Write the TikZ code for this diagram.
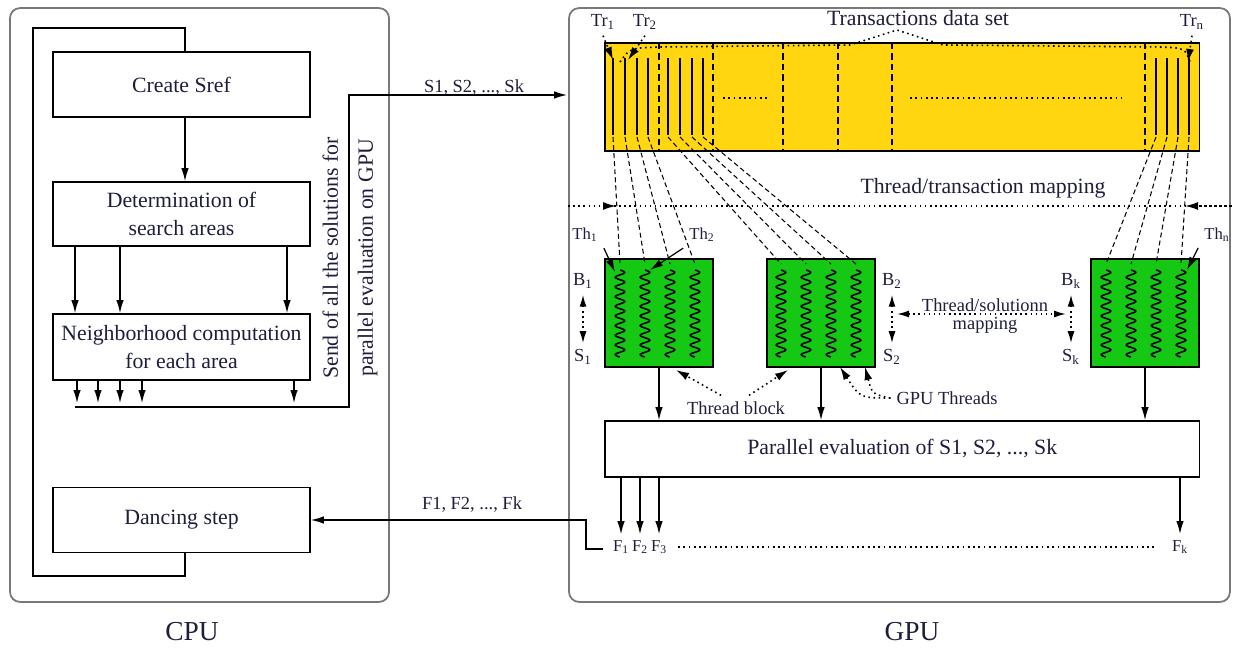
\documentclass[tikz,border=0pt]{standalone}
\usepackage{fontspec}
\setmainfont{Liberation Serif}
\usetikzlibrary{arrows.meta}
\definecolor{txt}{RGB}{30,30,60}
\definecolor{gold}{RGB}{255,214,15}
\definecolor{grn}{RGB}{20,200,20}
\definecolor{frame}{RGB}{120,120,120}
\begin{document}
\begin{tikzpicture}[x=0.02cm, y=-0.02cm, font=\fontsize{12.4}{15.5}\selectfont, text=txt,
    arr/.style={-{Latex[length=2.6mm,width=1.5mm]}, line width=0.7pt},
    dotarr/.style={dotted, line width=0.9pt, -{Latex[length=2.6mm,width=1.6mm]}},
    dotdbl/.style={dotted, line width=0.9pt, {Latex[length=2.4mm,width=1.4mm]}-{Latex[length=2.4mm,width=1.4mm]}},
    box/.style={draw, line width=1pt, minimum width=5.14cm, align=center, inner sep=0pt},
    part/.style={draw=frame, line width=1pt, rounded corners=0.2cm, minimum height=11.88cm},
    block/.style={draw, line width=1pt, fill=grn, minimum width=2.16cm, minimum height=2.16cm},
    sepline/.style={line width=1.3pt, dash pattern=on 3.8pt off 2.3pt},
    maplink/.style={line width=0.6pt, dash pattern=on 2.8pt off 1.8pt},
    wave/.style={line width=0.9pt},
    small/.style={font=\fontsize{10.5}{12}\selectfont},
    tiny/.style={font=\fontsize{9.5}{11}\selectfont}]
    \useasboundingbox (0,0) rectangle (1233,648);
    % frames
    \node[part, minimum width=7.58cm] (cpu) at (199.5,305) {};
    \node[part, minimum width=13.22cm] (gpu) at (899.5,305) {};
    \node[font=\fontsize{15.6}{18}\selectfont] (cpulbl) at (192,632) {CPU};
    \node[font=\fontsize{15.6}{18}\selectfont] (gpulbl) at (912,632) {GPU};
    % CPU side
    \node[box, minimum height=1.3cm] (sref) at (181.5,84.5) {Create Sref};
    \node[box, minimum height=1.28cm] (det) at (181.5,214) {Determination of\\search areas};
    \node[box, minimum height=1.32cm] (nbh) at (181.5,347) {Neighborhood computation\\for each area};
    \node[box, minimum height=1.3cm] (dance) at (181.5,520) {Dancing step};
    \draw[arr] (185,0 |- sref.south) -- (185,0 |- det.north);
    \foreach \xx in {75,120,287}
        \draw[arr] (\xx,0 |- det.south) -- (\xx,0 |- nbh.north);
    \foreach \xx in {77,98,120,142,294}
        \draw[arr] (\xx,0 |- nbh.south) -- (\xx,403);
    \draw[line width=0.8pt] (185,0 |- sref.north) -- (185,28) -- (33,28) -- (33,576) -- (185,576) -- (185,0 |- dance.south);
    \coordinate (sl) at (75,407);
    \coordinate (sr) at (349,407);
    \coordinate (sin) at (567,95);
    \draw[arr] (sl) -- (sr) |- (sin);
    \node[small] (slbl) at (474,88) {S1, S2, ..., Sk};
    \node[rotate=90, align=center, font=\fontsize{12.4}{19.9}\selectfont] (send) at (350,258)
        {Send of all the solutions for\\parallel evaluation on GPU};
    % transactions
    \node[draw, line width=1pt, fill=gold, minimum width=11.89cm, minimum height=2.16cm] (tds) at (902.25,97) {};
    \foreach \xx in {613,625,637,648,668,680,692,703,1156,1167,1178,1189}
        \draw[line width=1pt] (\xx,58) -- (\xx,135);
    \foreach \xx in {659,713,783,838,892,1145}
        \draw[sepline] (\xx,0 |- tds.north) -- (\xx,0 |- tds.south);
    \draw[dotted, line width=1pt] (723,98) -- (768,98);
    \draw[dotted, line width=1pt] (910,98) -- (1122,98);
    \node (dslbl) at (918,18) {Transactions data set};
    \draw[dotted, line width=0.9pt] (620,62) .. controls (630,48) .. (660,47) -- (850,45) -- (897,30)
        -- (943,45) -- (1160,47) .. controls (1185,48) .. (1190,62);
    \node[small] (tr1) at (603,22) {Tr\textsubscript{1}};
    \node[small] (tr2) at (645,22) {Tr\textsubscript{2}};
    \node[small] (trn) at (1192,22) {Tr\textsubscript{n}};
    \draw[dotarr] (tr1.south) -- (613,60);
    \draw[dotarr] (tr2.south) -- (628,60);
    \draw[dotarr] (trn.south) -- (1188,62);
    % mapping
    \node (tmlbl) at (983,188) {Thread/transaction mapping};
    \draw[dotted, line width=0.9pt] (gpu.west |- 0,206) -- (gpu.east |- 0,206);
    \draw[dotarr] (gpu.west |- 0,206) -- (616,206);
    \draw[dotarr] (gpu.east |- 0,206) -- (1185,206);
    % blocks
    \node[block] (b1) at (659,313) {};
    \node[block] (b2) at (821,313) {};
    \node[block] (b3) at (1145,313) {};
    \foreach \tx in {620,645,670,695,781,806,831,856,1106,1131,1156,1181}
        \draw[wave] plot[domain=0:87, samples=120] ({\tx+4.8*sin(\x*37.2)},{270+\x});
    \foreach \s/\t in {613/620,625/645,637/670,648/695,668/781,680/806,692/831,703/856,1156/1106,1167/1131,1178/1156,1189/1181}
        \draw[maplink] (\s,137) -- (\t,264);
    \node[tiny] (th1) at (585,235) {Th\textsubscript{1}};
    \node[tiny] (th2) at (702,235) {Th\textsubscript{2}};
    \node[tiny] (thn) at (1217,235) {Th\textsubscript{n}};
    \draw[arr] (th1.south east) -- (615,272);
    \draw[arr] (th2.south west) -- (650,270);
    \draw[arr] (thn.south west) -- (1187,270);
    \node[small] (bl1) at (583,281) {B\textsubscript{1}};
    \node[small] (sl1) at (583,357) {S\textsubscript{1}};
    \node[small] (bl2) at (892,281) {B\textsubscript{2}};
    \node[small] (sl2) at (892,357) {S\textsubscript{2}};
    \node[small] (blk) at (1071,281) {B\textsubscript{k}};
    \node[small] (slk) at (1071,357) {S\textsubscript{k}};
    \draw[dotdbl] (bl1) -- (sl1);
    \draw[dotdbl] (bl2) -- (sl2);
    \draw[dotdbl] (blk) -- (slk);
    \coordinate (sm1) at (897,314);
    \coordinate (sm2) at (1066,314);
    \draw[dotdbl] (sm1) -- (sm2);
    \node[small, align=center, font=\fontsize{10.5}{9.8}\selectfont] (smlbl) at (985,316) {Thread/solutionn\\mapping};
    % evaluation
    \node[box, minimum width=11.89cm, minimum height=1.12cm] (par) at (902.25,449) {Parallel evaluation of S1, S2, ..., Sk};
    \foreach \b in {b1,b2,b3}
        \draw[arr] (\b.south) -- (\b.south |- par.north);
    \node[small] (tblk) at (736,408) {Thread block};
    \draw[dotarr] (tblk.north) ++(-15,0) -- (676,370);
    \draw[dotarr] (tblk.north) ++(13,0) -- (788,370);
    \node[small] (gthr) at (947,398) {GPU Threads};
    \draw[dotarr] (gthr.west) .. controls (860,398) .. (840,367);
    \draw[dotarr] (gthr.west) .. controls (872,394) .. (865,367);
    \node[tiny] (f1) at (621,547) {F\textsubscript{1}};
    \node[tiny] (f2) at (640,547) {F\textsubscript{2}};
    \node[tiny] (f3) at (659,547) {F\textsubscript{3}};
    \node[tiny] (fk) at (1180,547) {F\textsubscript{k}};
    \foreach \f in {f1,f2,f3,fk}
        \draw[arr] (par.south -| \f) -- (\f.north);
    \draw[dotted, line width=1pt] (678,547) -- (1154,547);
    \coordinate (fo) at (603,549);
    \draw[arr] (fo) -- ++(-17,0) |- (dance.east);
    \node[small] (flbl) at (472,505) {F1, F2, ..., Fk};
\end{tikzpicture}
\end{document}
